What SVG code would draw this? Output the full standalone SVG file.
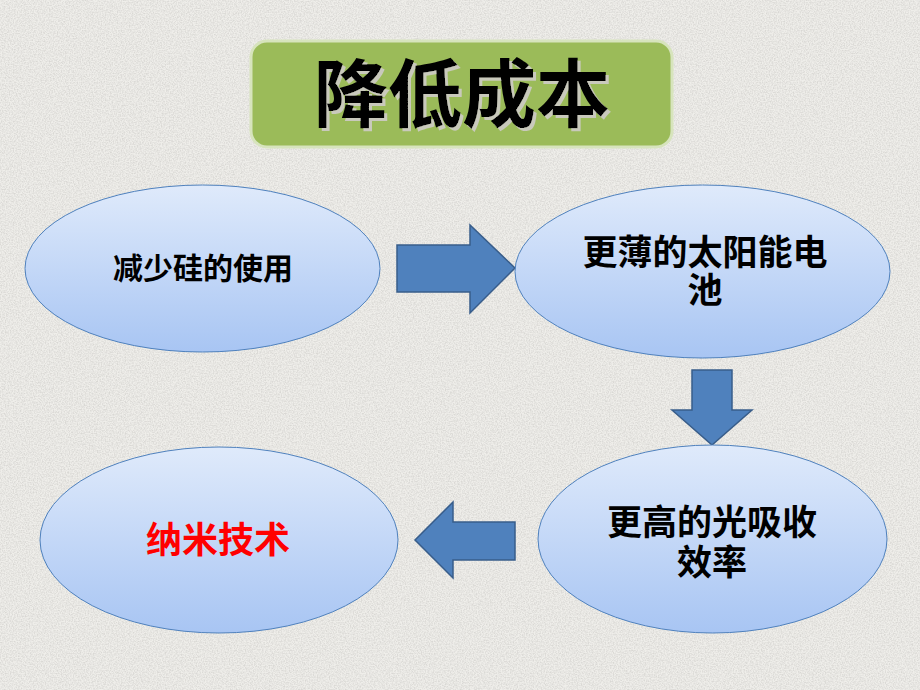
<svg xmlns="http://www.w3.org/2000/svg" width="920" height="690" viewBox="0 0 920 690">
  <defs>
    <filter id="noise" x="0" y="0" width="100%" height="100%">
      <feTurbulence type="fractalNoise" baseFrequency="0.75" numOctaves="2" seed="3" result="t"/>
      <feColorMatrix in="t" type="matrix" values="0 0 0 0 0.6  0 0 0 0 0.59  0 0 0 0 0.57  0 0 0 -2.2 1.45" result="n"/>
      <feComposite in="n" in2="SourceGraphic" operator="in"/>
    </filter>
    <filter id="tshadow" x="-10%" y="-10%" width="130%" height="130%">
      <feDropShadow dx="3" dy="3" stdDeviation="0.6" flood-color="#c9c9bc" flood-opacity="1"/>
    </filter>
    <linearGradient id="ellFill" x1="0" y1="0" x2="0" y2="1">
      <stop offset="0" stop-color="#dfeafb"/>
      <stop offset="1" stop-color="#a8c5f3"/>
    </linearGradient>
    <style>
      .ell { fill: url(#ellFill); stroke: #4f81bd; stroke-width: 1; }
      .arrow { fill: #4f81bd; stroke: #385d8a; stroke-width: 1.5; stroke-linejoin: miter; }
      .txt { font-family: "Liberation Sans", "Noto Sans CJK SC", sans-serif; font-weight: bold; text-anchor: middle; fill: #000; }
      .title { font-size: 74px; }
    </style>
  </defs>

  <rect width="920" height="690" fill="#efeeea"/>
  <rect width="920" height="690" fill="#ffffff" filter="url(#noise)" opacity="0.6"/>

  <g id="title">
    <rect x="251" y="41" width="421" height="106" rx="16" ry="16" fill="#9bbb59" stroke="#d7e4bd" stroke-width="3"/>
    <text class="txt title" x="462" y="121" filter="url(#tshadow)">降低成本</text>
  </g>

  <g id="connectors">
    <polygon class="arrow" points="397,245 470,245 470,225 515,268 470,313 470,292 397,292"/>
    <polygon class="arrow" points="692,370 732,370 732,410 752,410 712,445 672,410 692,410"/>
    <polygon class="arrow" points="515,522 453,522 453,502 415,540 453,578 453,560 515,560"/>
  </g>

  <g id="node-reduce-silicon">
    <ellipse class="ell" cx="202.5" cy="268.5" rx="177.5" ry="83.5"/>
    <text class="txt" x="203" y="279" font-size="30">减少硅的使用</text>
  </g>

  <g id="node-thinner-cell">
    <ellipse class="ell" cx="702.5" cy="271.5" rx="187.5" ry="86.5"/>
    <text class="txt" x="705" y="265" font-size="35">更薄的太阳能电</text>
    <text class="txt" x="705" y="303" font-size="35">池</text>
  </g>

  <g id="node-absorption">
    <ellipse class="ell" cx="712.5" cy="539" rx="174.5" ry="94"/>
    <text class="txt" x="712" y="535" font-size="35">更高的光吸收</text>
    <text class="txt" x="712" y="575" font-size="35">效率</text>
  </g>

  <g id="node-nano">
    <ellipse class="ell" cx="219" cy="540" rx="179" ry="93"/>
    <text class="txt" x="218" y="553" font-size="36" style="fill:#ff0000">纳米技术</text>
  </g>
</svg>
